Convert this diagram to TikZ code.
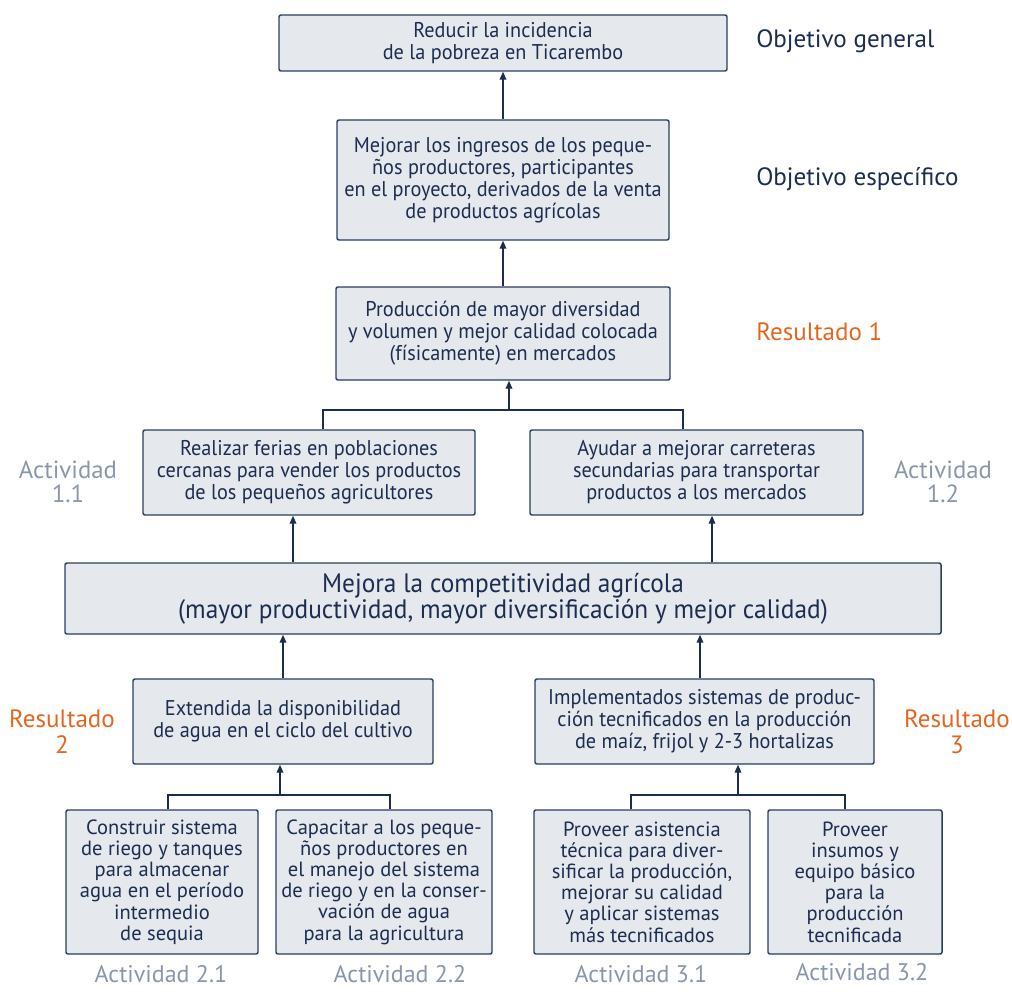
\documentclass[tikz,border=0pt]{standalone}
\usepackage{fontspec}
\setmainfont{PT Sans}
\newfontfamily\condfont[FakeStretch=0.95]{PT Sans}
\usetikzlibrary{arrows.meta,calc}
\definecolor{boxfill}{HTML}{E5E8ED}
\definecolor{boxline}{HTML}{2B3F5F}
\definecolor{navy}{HTML}{1C2D50}
\definecolor{grayl}{HTML}{8A97AA}
\definecolor{orng}{HTML}{E3661F}
\begin{document}
\begin{tikzpicture}[x=0.75pt,y=-0.75pt,
  box/.style={draw=boxline, fill=boxfill, line width=1.1pt, rounded corners=1.5pt,
    inner sep=0pt, align=center, text=navy},
  mainf/.style={font=\condfont\fontsize{16}{16.5}\selectfont},
  bigf/.style={font=\condfont\fontsize{20}{19.5}\selectfont},
  botf/.style={font=\fontsize{15.4}{15.9}\selectfont},
  conn/.style={draw=navy, line width=1.1pt},
  arr/.style={conn, -{Triangle[length=6pt,width=5pt]}},
  rlab/.style={anchor=west, text=navy, font=\fontsize{18.8}{20}\selectfont, inner sep=0pt},
  glab/.style={align=center, text=grayl, font=\fontsize{18.6}{18}\selectfont, inner sep=0pt},
  blab/.style={anchor=base, text=grayl, font=\fontsize{18}{18}\selectfont, inner sep=0pt},
  olab/.style={align=center, text=orng, font=\fontsize{18.8}{19.5}\selectfont, inner sep=0pt}
]
\useasboundingbox (0,0) rectangle (1012,991);

% boxes
\node[box, mainf, minimum width=336pt, minimum height=42pt] (b1) at (503,43)
  {Reducir la incidencia\\de la pobreza en Ticarembo};
\node[box, mainf, minimum width=249pt, minimum height=90pt] (b2) at (503,180)
  {Mejorar los ingresos de los peque-\\ños productores, participantes\\en el proyecto, derivados de la venta\\de productos agrícolas};
\node[box, mainf, minimum width=250.5pt, minimum height=69.75pt] (b3) at (503,333.5)
  {Producción de mayor diversidad\\y volumen y mejor calidad colocada\\(físicamente) en mercados};
\node[box, mainf, minimum width=249pt, minimum height=63.75pt] (b4a) at (309,472.5)
  {Realizar ferias en poblaciones\\cercanas para vender los productos\\de los pequeños agricultores};
\node[box, mainf, minimum width=249.75pt, minimum height=63.75pt] (b4b) at (696.5,472.5)
  {Ayudar a mejorar carreteras\\secundarias para transportar\\productos a los mercados};
\node[box, bigf, minimum width=657pt, minimum height=53.25pt] (b5) at (503,598.5)
  {Mejora la competitividad agrícola\\(mayor productividad, mayor diversificación y mejor calidad)};
\node[box, mainf, minimum width=225pt, minimum height=63.75pt] (b6a) at (283,721.5)
  {Extendida la disponibilidad\\de agua en el ciclo del cultivo};
\node[box, mainf, minimum width=254.25pt, minimum height=63.75pt] (b6b) at (704.5,721.5)
  {Implementados sistemas de produc-\\ción tecnificados en la producción\\de maíz, frijol y 2-3 hortalizas};
\node[box, botf, minimum width=144pt, minimum height=108pt] (b7a) at (162,882)
  {Construir sistema\\de riego y tanques\\para almacenar\\agua en el período\\intermedio\\de sequia};
\node[box, botf, minimum width=162pt, minimum height=108pt] (b7b) at (384,882)
  {Capacitar a los peque-\\ños productores en\\el manejo del sistema\\de riego y en la conser-\\vación de agua\\para la agricultura};
\node[box, botf, minimum width=162pt, minimum height=108pt] (b7c) at (642,882)
  {Proveer asistencia\\técnica para diver-\\sificar la producción,\\mejorar su calidad\\y aplicar sistemas\\más tecnificados};
\node[box, botf, minimum width=130.5pt, minimum height=108pt] (b7d) at (855,882)
  {Proveer\\insumos y\\equipo básico\\para la\\producción\\tecnificada};

% labels
\node[rlab] (l1) at (756,41) {Objetivo general};
\node[rlab] (l2) at (756,179) {Objetivo específico};
\node[rlab, text=orng] (l3) at (756,332) {Resultado 1};
\node[glab] (l4) at (68,482) {Actividad\\1.1};
\node[glab] (l5) at (943,482) {Actividad\\1.2};
\node[olab] (l6) at (62,732) {Resultado\\2};
\node[olab] (l7) at (957,732) {Resultado\\3};
\node[blab] (l8) at (161,982) {Actividad 2.1};
\node[blab] (l9) at (400,982) {Actividad 2.2};
\node[blab] (l10) at (641,982) {Actividad 3.1};
\node[blab] (l11) at (862,980) {Actividad 3.2};

% junction coordinates
\coordinate (j1) at (509,410);
\coordinate (j2) at (280,795);
\coordinate (j3) at (738,795);
\coordinate (x4a) at (293,0);
\coordinate (x4b) at (712,0);
\coordinate (x6b) at (700,0);

% connectors
\draw[arr] (b2.north) -- (b1.south);
\draw[arr] (b3.north) -- (b2.south);
\draw[arr] (j1) -- (j1 |- b3.south);
\draw[conn] ($(b4a.north)+(14,0)$) |- (j1) -| ($(b4b.north)+(-13.5,0)$);
\draw[arr] (b5.north -| x4a) -- (b4a.south -| x4a);
\draw[arr] (b5.north -| x4b) -- (b4b.south -| x4b);
\draw[arr] (b6a.north) -- (b6a.north |- b5.south);
\draw[arr] (b6b.north -| x6b) -- (b5.south -| x6b);
\draw[arr] (j2) -- (j2 |- b6a.south);
\draw[conn] ($(b7a.north)+(6,0)$) |- (j2) -| ($(b7b.north)+(6,0)$);
\draw[arr] (j3) -- (j3 |- b6b.south);
\draw[conn] ($(b7c.north)+(-11,0)$) |- (j3) -| ($(b7d.north)+(-10,0)$);
\end{tikzpicture}
\end{document}
